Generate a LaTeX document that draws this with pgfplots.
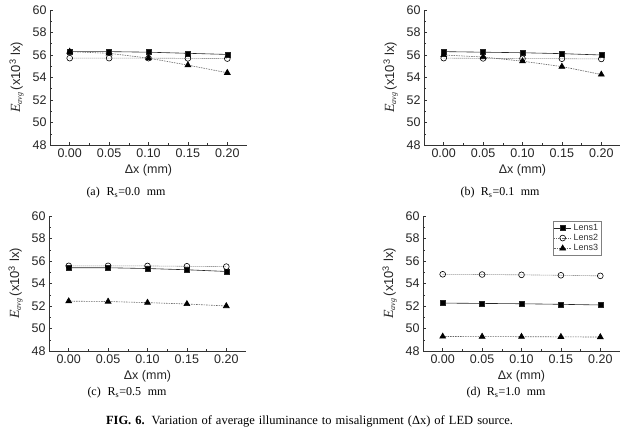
\documentclass[border=0pt]{standalone}
\usepackage{fontspec}
\setmainfont{Liberation Serif}
\setsansfont{Liberation Sans}
\usepackage{pgfplots}
\pgfplotsset{compat=1.18}
\pgfplotsset{
  panel/.style={
    scale only axis, width=197pt, height=135pt,
    anchor=south west,
    xmin=-0.025, xmax=0.225, ymin=48, ymax=60,
    axis lines*=left,
    axis line style={black!80, line width=0.6pt},
    tick align=inside,
    tick style={black!80, line width=0.5pt},
    major tick length=3pt, minor tick length=1.8pt,
    xtick={0,0.05,0.1,0.15,0.2},
    ytick={48,50,...,60},
    minor y tick num=1,
    minor x tick num=1,
    /pgf/number format/assume math mode=true,
    xticklabel style={/pgf/number format/fixed, /pgf/number format/fixed zerofill, /pgf/number format/precision=2},
    scaled x ticks=false,
    ticklabel style={font=\sffamily\fontsize{12.5}{13}\selectfont, text=black!85},
    xlabel={\sffamily\fontsize{12.5}{13}\selectfont Δx (mm)},
    ylabel={{\fontsize{14}{14}\selectfont\textit{E}}\textsubscript{\textit{avg}}\,{\sffamily\fontsize{13}{14}\selectfont (x10\textsuperscript{3} lx)}},
    ylabel style={font=\fontsize{12}{12}\selectfont, text=black!85, yshift=2pt},
    xlabel style={text=black!85, yshift=0pt},
    clip=false,
  },
  l1/.style={black!85, line width=0.6pt, mark=square*, mark size=2.5pt, mark options={solid, fill=black}},
  l2/.style={black!60, line width=0.6pt, dash pattern=on 1pt off 1pt, mark=o, mark size=2.9pt, mark options={solid, fill=white, black}},
  l3/.style={black!60, line width=0.6pt, dash pattern=on 1.5pt off 1pt, mark=triangle*, mark size=3.4pt, mark options={solid, fill=black, black}},
}
\newcommand\subcap[2]{\makebox[79pt][s]{(#1) R\textsubscript{s}=#2 mm}}
\begin{document}
\begin{tikzpicture}[x=1pt,y=1pt]
\path[use as bounding box] (0,0) rectangle (620,429);
% (a)
\begin{axis}[panel, at={(50pt,284pt)}]
\addplot[l1] coordinates {(0,56.3) (0.05,56.3) (0.1,56.25) (0.15,56.15) (0.2,56.05)};
\addplot[l2] coordinates {(0,55.72) (0.05,55.72) (0.1,55.72) (0.15,55.7) (0.2,55.68)};
\addplot[l3] coordinates {(0,56.3) (0.05,56.15) (0.1,55.72) (0.15,55.1) (0.2,54.42)};
\end{axis}
% (b)
\begin{axis}[panel, at={(424pt,284pt)}]
\addplot[l1] coordinates {(0,56.3) (0.05,56.25) (0.1,56.2) (0.15,56.12) (0.2,56.0)};
\addplot[l2] coordinates {(0,55.72) (0.05,55.7) (0.1,55.68) (0.15,55.67) (0.2,55.65)};
\addplot[l3] coordinates {(0,56.0) (0.05,55.82) (0.1,55.45) (0.15,54.97) (0.2,54.27)};
\end{axis}
% (c)
\begin{axis}[panel, at={(49pt,78pt)}]
\addplot[l1] coordinates {(0,55.4) (0.05,55.4) (0.1,55.33) (0.15,55.22) (0.2,55.07)};
\addplot[l2] coordinates {(0,55.57) (0.05,55.57) (0.1,55.56) (0.15,55.53) (0.2,55.5)};
\addplot[l3] coordinates {(0,52.43) (0.05,52.4) (0.1,52.3) (0.15,52.18) (0.2,52.0)};
\end{axis}
% (d)
\begin{axis}[panel, at={(423pt,78pt)},
  legend style={at={(0.905,0.965)}, anchor=north east, draw=black!50, line width=0.5pt,
    font=\sffamily\fontsize{9}{10}\selectfont, inner sep=1pt, row sep=-1.5pt, text=black!80},
  legend cell align=left]
\addplot[l1] coordinates {(0,52.26) (0.05,52.23) (0.1,52.2) (0.15,52.15) (0.2,52.09)};
\addlegendentry{Lens1}
\addplot[l2] coordinates {(0,54.82) (0.05,54.8) (0.1,54.77) (0.15,54.73) (0.2,54.68)};
\addlegendentry{Lens2}
\addplot[l3] coordinates {(0,49.29) (0.05,49.28) (0.1,49.27) (0.15,49.26) (0.2,49.24)};
\addlegendentry{Lens3}
\end{axis}
% captions
\node[font=\fontsize{12}{13}\selectfont] at (126,236) {\subcap{a}{0.0}};
\node[font=\fontsize{12}{13}\selectfont] at (500,236) {\subcap{b}{0.1}};
\node[font=\fontsize{12}{13}\selectfont] at (127,36) {\subcap{c}{0.5}};
\node[font=\fontsize{12}{13}\selectfont] at (506,36) {\subcap{d}{1.0}};
\node[font=\fontsize{12.5}{13}\selectfont] at (309.5,8) {\makebox[407pt][s]{\textbf{FIG. 6.} Variation of average illuminance to misalignment (Δx) of LED source.}};
\end{tikzpicture}
\end{document}
